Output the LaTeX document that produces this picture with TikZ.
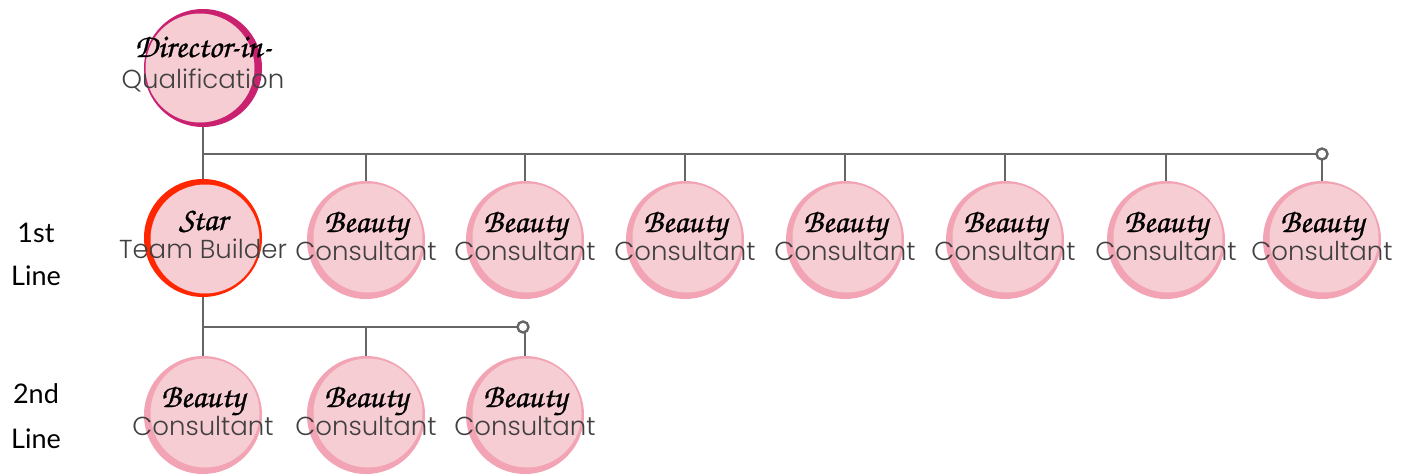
\documentclass[tikz,border=0pt]{standalone}
\usepackage{fontspec}
\setmainfont{Lato}
\newfontfamily\thinfont{Poppins Light}
\newfontfamily\chorus{texgyrechorus-mediumitalic.otf}[FakeBold=0.8]
\newcommand\scriptf{\chorus}
\definecolor{fillpink}{HTML}{F7CDD4}
\definecolor{ringpink}{HTML}{F2A3B4}
\definecolor{ringmag}{HTML}{C9206F}
\definecolor{ringred}{HTML}{FF2600}
\definecolor{linegray}{HTML}{666666}
\definecolor{txtgray}{HTML}{404040}
\tikzset{
  ring/.style={circle, minimum size=118pt, inner sep=0pt, draw=none},
  inner/.style={fill=fillpink},
  scr/.style={font=\scriptf\fontsize{33}{33}\selectfont, text=black, anchor=base, inner sep=0pt},
  thn/.style={font=\thinfont\fontsize{26}{26}\selectfont, text=txtgray, anchor=base, inner sep=0pt},
  conn/.style={draw=linegray, line width=2.8pt},
  tip/.style={draw=linegray, line width=2.4pt, fill=white},
  side/.style={font=\fontsize{27}{27}\selectfont, text=black, anchor=base},
}
\newcommand\member[9]{%
  \node[ring, fill=#4] (#1) at (#2,#3) {};
  \fill[inner] ([xshift=#5pt,yshift=#6pt]#1.center) circle[radius=54.5pt];
  \node[scr] (#1s) at ([yshift=#9pt]#1.center) {#7};
  \node[thn] (#1t) at ([yshift=-20pt]#1.center) {#8};
}
\begin{document}
\begin{tikzpicture}[x=1pt,y=-1pt]
\useasboundingbox (0,0) rectangle (1408,474);
\coordinate (busA) at (203,154);
\coordinate (tipA) at (1322,154);
\coordinate (busB) at (203,327);
\coordinate (tipB) at (523,327);
\member{dir}{203}{68}{ringmag}{-3}{0}{Director-in-}{Qualification}{11}
\member{star}{203}{238}{ringred}{2}{-1}{Star}{Team Builder}{8}
\foreach \n/\x in {c1/366,c2/525,c3/685,c4/845,c5/1005,c6/1166,c7/1322}{
  \member{\n}{\x}{240}{ringpink}{2}{2}{Beauty}{Consultant}{8}
}
\foreach \n/\x in {d1/203,d2/366,d3/525}{
  \member{\n}{\x}{415}{ringpink}{2}{2}{Beauty}{Consultant}{8}
}
\draw[conn] (dir.south) -- (star.north);
\draw[conn] (busA) -- (tipA);
\foreach \n in {c1,c2,c3,c4,c5,c6,c7}{
  \draw[conn] (\n.north |- busA) -- (\n.north);
}
\draw[tip] (tipA) circle[radius=5.5pt];
\draw[conn] (star.south) -- (d1.north);
\draw[conn] (busB) -- (tipB);
\foreach \n in {d2,d3}{
  \draw[conn] (\n.north |- busB) -- (\n.north);
}
\draw[tip] (tipB) circle[radius=5.5pt];
\node[side] (l1a) at (36,242) {1st};
\node[side] (l1b) at (36,285) {Line};
\node[side] (l2a) at (36,403) {2nd};
\node[side] (l2b) at (36,448) {Line};
\end{tikzpicture}
\end{document}
